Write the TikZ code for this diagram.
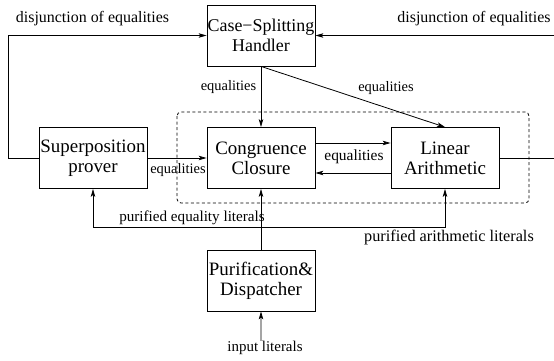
\documentclass[tikz,border=0pt]{standalone}
\usepackage{fontspec}
\setmainfont{Liberation Serif}
\usetikzlibrary{arrows.meta}
\begin{document}
\begin{tikzpicture}[x=1bp,y=-1bp,
  line width=0.8bp,
  box/.style={draw, rectangle, inner sep=0pt, text width=108bp, minimum height=61bp, align=center,
    font=\fontsize{19}{20}\selectfont},
  lbl/.style={inner sep=0pt, font=\fontsize{15}{17}\selectfont},
  arr/.style={-{Stealth[length=8bp,width=4.5bp,inset=2bp]}},
  dashbox/.style={draw, dash pattern=on 3bp off 2.5bp, rounded corners=4bp, line width=0.8bp}]
\useasboundingbox (0,0) rectangle (554,360);
\clip (0,0) rectangle (554,360);
% dashed group
\draw[dashbox] (177,112) rectangle (529,203);
% boxes
\node[box, font=\fontsize{18}{20}\selectfont] (case) at (261,35.5) {Case−Splitting\\Handler};
\node[box] (cong) at (261,158) {Congruence\\Closure};
\node[box] (lin) at (445,158) {Linear\\Arithmetic};
\node[box] (sup) at (93,158) {Superposition\\prover};
\node[box] (pur) at (261,280.5) {Purification\&\\Dispatcher};
% labels
\node[lbl, font=\fontsize{16}{18}\selectfont] (dl) at (92.5,19) {disjunction of equalities};
\node[lbl, font=\fontsize{16}{18}\selectfont] (dr) at (474,19) {disjunction of equalities};
\node[lbl, font=\fontsize{14.5}{17}\selectfont] (e1) at (228.5,87) {equalities};
\node[lbl, font=\fontsize{14.5}{17}\selectfont] (e2) at (386,88) {equalities};
\node[lbl, font=\fontsize{14.5}{17}\selectfont] (e3) at (178,170) {equalities};
\node[lbl, font=\fontsize{15.5}{17}\selectfont] (e4) at (354,157) {equalities};
\node[lbl, font=\fontsize{15.2}{17}\selectfont] (pe) at (192,218) {purified equality literals};
\node[lbl, font=\fontsize{16.3}{18}\selectfont] (pa) at (449,238) {purified arithmetic literals};
\node[lbl, font=\fontsize{15}{17}\selectfont] (in) at (265,348) {input literals};
% connectors
\coordinate (lcorner) at (8,158);
\coordinate (rcorner) at (557,158);
\coordinate (junc) at (261,227);
\draw[arr] (sup.west) -- (lcorner) |- (case.west);
\draw[arr] (lin.east) -- (rcorner) |- (case.east);
\draw[arr] (case.south) -- (cong.north);
\draw[arr] (case.south) -- (lin.north);
\draw[arr] (sup.east) -- (cong.west);
\draw[arr] ([yshift=15bp]cong.east) -- ([yshift=15bp]lin.west);
\draw[arr] ([yshift=-15bp]lin.west) -- ([yshift=-15bp]cong.east);
\draw[arr] (pur.north) -- (cong.south);
\draw[arr] (junc) -| (sup.south);
\draw[arr] (junc) -| (lin.south);
\draw[arr] ([xshift=-4bp]in.north) -- (pur.south);
\end{tikzpicture}
\end{document}
